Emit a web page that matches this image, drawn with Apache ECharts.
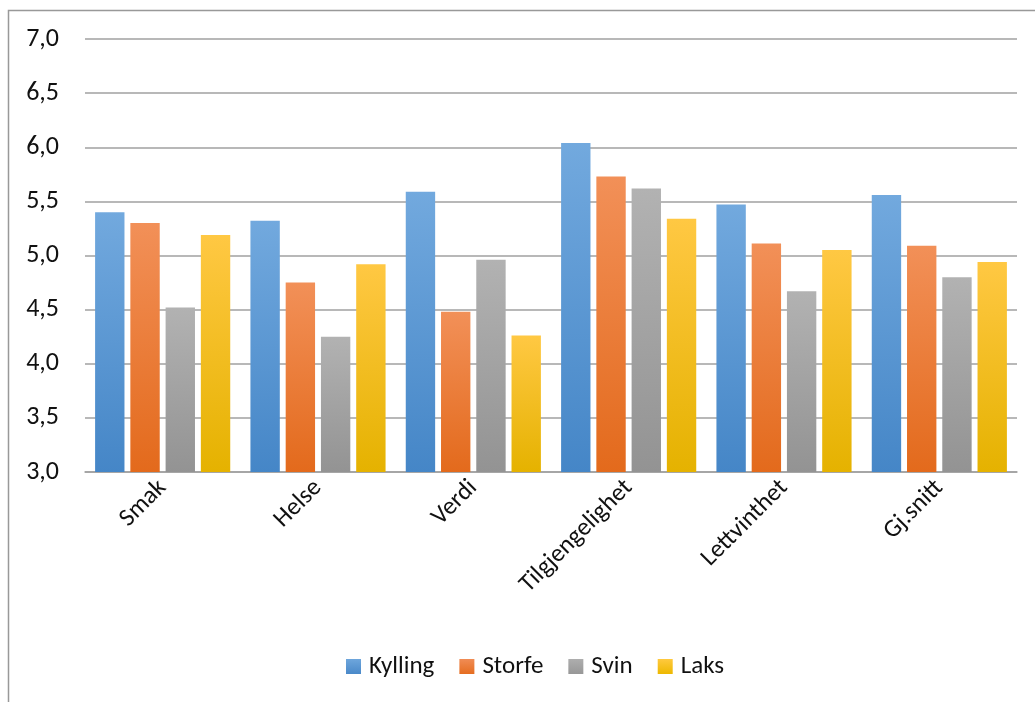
<!DOCTYPE html>
<html>
<head>
<meta charset="utf-8">
<script src="https://cdn.jsdelivr.net/npm/echarts@6/dist/echarts.min.js"></script>
<style>
html,body{margin:0;padding:0;background:#fff;}
#c{width:1035px;height:702px;}
</style>
</head>
<body>
<div id="c"></div>
<script>
const categories = ['Smak', 'Helse', 'Verdi', 'Tilgjengelighet', 'Lettvinthet', 'Gj.snitt'];
const kylling = [5.40, 5.32, 5.59, 6.04, 5.47, 5.56];
const storfe  = [5.30, 4.75, 4.48, 5.73, 5.11, 5.09];
const svin    = [4.52, 4.25, 4.96, 5.62, 4.67, 4.80];
const laks    = [5.19, 4.92, 4.26, 5.34, 5.05, 4.94];
const seriesNames = ['Kylling', 'Storfe', 'Svin', 'Laks'];

const chart = echarts.init(document.getElementById('c'));
function grad(top, bottom){
  return new echarts.graphic.LinearGradient(0,0,0,1,[{offset:0,color:top},{offset:1,color:bottom}]);
}
const colors = [
  grad('#72a9de', '#4586c7'),
  grad('#f29058', '#e36a1c'),
  grad('#b2b2b2', '#939393'),
  grad('#ffc843', '#e5b200')
];
const legendColors = [
  grad('#6ea6dc', '#4a89c9'),
  grad('#f08c55', '#e56d20'),
  grad('#aeaeae', '#979797'),
  grad('#ffc93f', '#edb800')
];
const datas = [kylling, storfe, svin, laks];
const font = 'Carlito, Lato, "Open Sans", "Noto Sans", sans-serif';
chart.setOption({
  animation: false,
  textStyle: {fontFamily: font},
  graphic: [{
    type: 'polyline',
    shape: {points: [[8.5, 702], [8.5, 10.5], [1035, 10.5]]},
    style: {stroke: '#999', lineWidth: 1.5, fill: null}
  }],
  grid: {left: 85, right: 18, top: 39, bottom: 230, containLabel: false},
  legend: {
    bottom: 18,
    left: 341,
    icon: 'rect',
    itemWidth: 15,
    itemHeight: 15,
    itemGap: 25,
    textStyle: {fontSize: 25, color: '#111', fontFamily: font, padding: [0, 0, 0, 3]},
    data: seriesNames.map((n, i) => ({name: n, itemStyle: {color: legendColors[i]}}))
  },
  xAxis: {
    type: 'category',
    data: categories,
    axisLine: {show: true, lineStyle: {color: '#a0a0a0', width: 1.5}},
    axisTick: {show: false},
    axisLabel: {rotate: 45, fontSize: 25, color: '#111', margin: 12, interval: 0}
  },
  yAxis: {
    type: 'value',
    min: 3.0,
    max: 7.0,
    interval: 0.5,
    axisLine: {show: false},
    axisTick: {show: false},
    splitLine: {lineStyle: {color: '#a0a0a0', width: 1.5}},
    axisLabel: {
      fontSize: 26, color: '#111', margin: 26, fontFamily: font, overflow: 'none',
      formatter: v => v.toFixed(1).replace('.', ',')
    }
  },
  series: datas.map((d, i) => ({
    name: seriesNames[i],
    type: 'bar',
    data: d,
    barGap: '20%',
    barCategoryGap: '13%',
    itemStyle: {color: colors[i]}
  }))
});
</script>
</body>
</html>
